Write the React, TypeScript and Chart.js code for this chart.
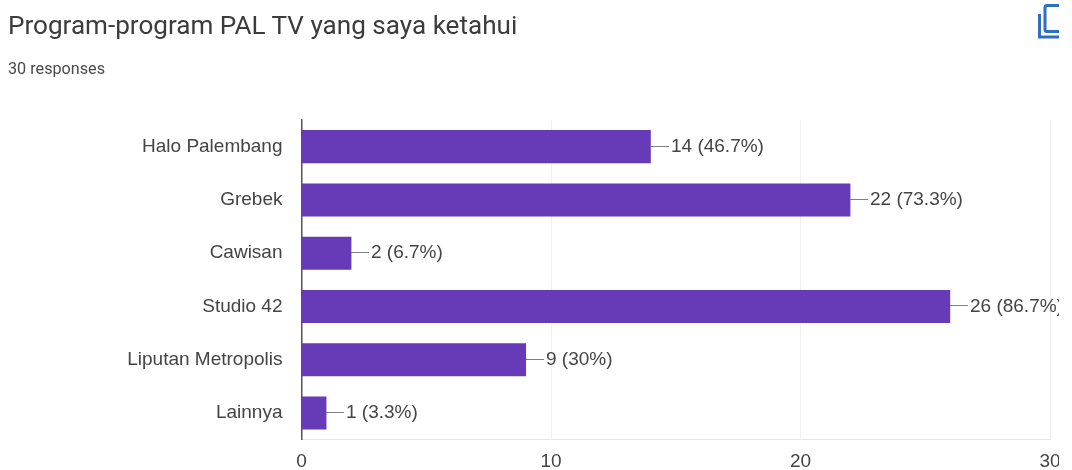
import React, { useEffect, useRef } from "react";
import { Chart, registerables } from "chart.js";

Chart.register(...registerables);

const titleText = "Program-program PAL TV yang saya ketahui";
const subtitleText = "30 responses";
const categories = ["Halo Palembang", "Grebek", "Cawisan", "Studio 42", "Liputan Metropolis", "Lainnya"];
const counts = [14, 22, 2, 26, 9, 1];
const percentLabels = ["46.7%", "73.3%", "6.7%", "86.7%", "30%", "3.3%"];
const xTicks = [0, 10, 20, 30];

const FONT = '"Liberation Sans", Arial, sans-serif';
const LABEL_SIZE = 19;

const leaderLabels = {
  id: "leaderLabels",
  afterDatasetsDraw(chart: any) {
    const ctx = chart.ctx;
    const meta = chart.getDatasetMeta(0);
    ctx.save();
    ctx.font = `${LABEL_SIZE}px ${FONT}`;
    ctx.textAlign = "left";
    ctx.textBaseline = "middle";
    meta.data.forEach((bar: any, i: number) => {
      const x = Math.round(bar.x);
      const y = Math.round(bar.y) - 0.5;
      ctx.strokeStyle = "#808080";
      ctx.lineWidth = 1;
      ctx.beginPath();
      ctx.moveTo(x, y);
      ctx.lineTo(x + 18, y);
      ctx.stroke();
      ctx.fillStyle = "#444444";
      ctx.fillText(`${counts[i]} (${percentLabels[i]})`, x + 20, bar.y);
    });
    ctx.restore();
  },
};

export default function App() {
  const ref = useRef<HTMLCanvasElement>(null);
  useEffect(() => {
    document.body.style.margin = "0";
    document.body.style.background = "#fff";
    const chart = new Chart(ref.current!, {
      type: "bar",
      data: {
        labels: categories,
        datasets: [
          {
            data: counts,
            backgroundColor: "#673ab7",
            barPercentage: 0.62,
            categoryPercentage: 1,
          },
        ],
      },
      options: {
        indexAxis: "y",
        animation: false,
        responsive: false,
        layout: { padding: { top: 120, right: 22, bottom: 0, left: 0 } },
        plugins: { legend: { display: false }, tooltip: { enabled: false } },
        scales: {
          x: {
            type: "linear",
            min: xTicks[0],
            max: xTicks[xTicks.length - 1],
            afterBuildTicks(scale: any) {
              scale.ticks = xTicks.map((value) => ({ value }));
            },
            afterFit(scale: any) {
              scale.height = 29;
            },
            grid: { color: "#f1f1f1", drawTicks: false, lineWidth: 1 },
            border: { display: true, color: "#e8e8e8" },
            ticks: {
              color: "#444444",
              font: { family: FONT, size: LABEL_SIZE },
              padding: 11,
              maxRotation: 0,
            },
          },
          y: {
            type: "category",
            afterFit(scale: any) {
              scale.width = 301.5;
            },
            grid: { display: false, drawTicks: false },
            border: { display: true, color: "#555555", width: 1.5 },
            ticks: {
              color: "#444444",
              font: { family: FONT, size: LABEL_SIZE },
              padding: 19,
              autoSkip: false,
            },
          },
        },
      },
      plugins: [leaderLabels],
    } as any);
    return () => chart.destroy();
  }, []);

  return (
    <div style={{ position: "relative", width: 1059, height: 470, overflow: "hidden", background: "#fff" }}>
      <canvas ref={ref} width={1072} height={470} style={{ position: "absolute", left: 0, top: 0, width: 1072, height: 470 }} />
      <div style={{ position: "absolute", left: 8, top: 10, font: "26.1px Roboto, sans-serif", color: "#3c3c3c", whiteSpace: "nowrap" }}>
        {titleText}
      </div>
      <div style={{ position: "absolute", left: 8, top: 59, font: "16.2px Roboto, sans-serif", color: "#4a4a4a", whiteSpace: "nowrap" }}>
        {subtitleText}
      </div>
      <svg style={{ position: "absolute", left: 1036, top: 4, overflow: "visible" }} width="30" height="36">
        <rect x="9" y="1.5" width="26" height="26" rx="2" fill="none" stroke="#2f6fc4" strokeWidth="3" />
        <path d="M3.5 10 V33 H26" fill="none" stroke="#2f6fc4" strokeWidth="3" />
      </svg>
    </div>
  );
}
